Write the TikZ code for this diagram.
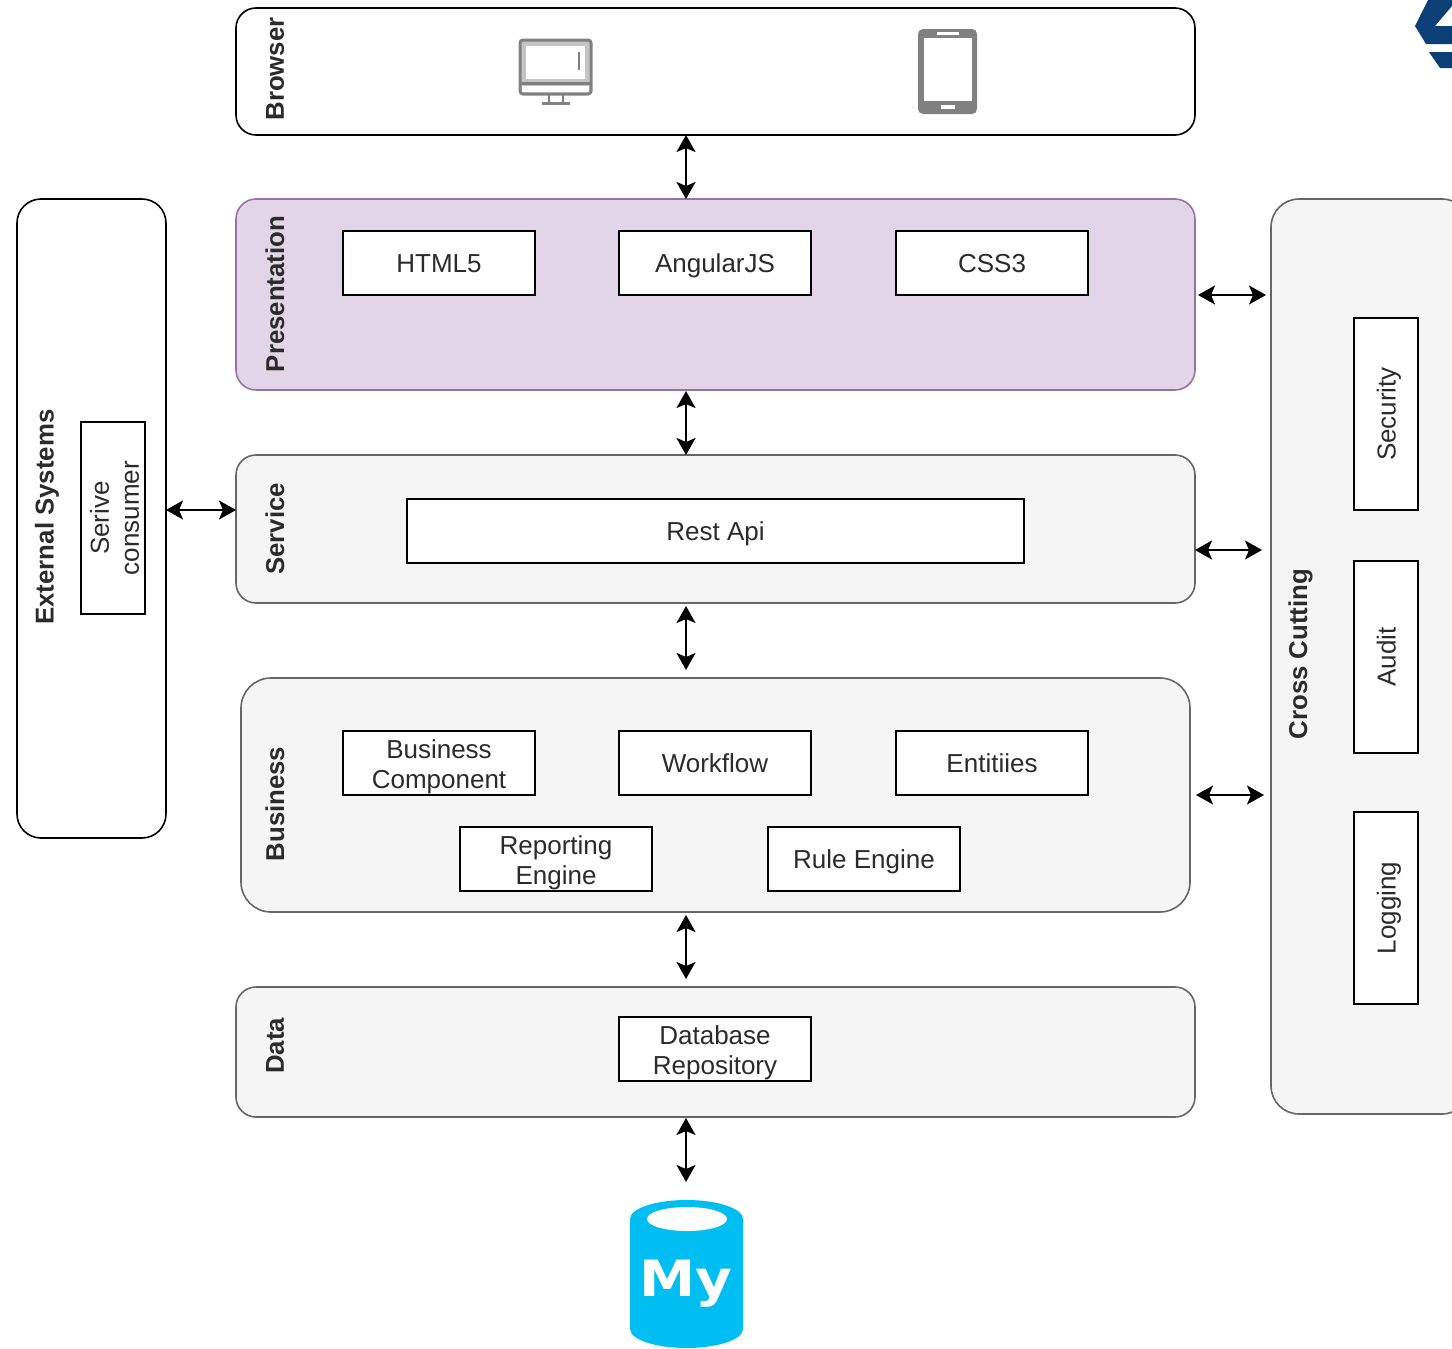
\documentclass[tikz,border=0pt]{standalone}
\usepackage{fontspec}
\setmainfont{Liberation Sans}
\newfontfamily\mylogofont{DejaVu Sans}
\usetikzlibrary{arrows.meta}
\definecolor{txt}{HTML}{2B2B2B}
\definecolor{iconc}{HTML}{808080}
\definecolor{iconl}{HTML}{C4C4C4}
\definecolor{logoc}{HTML}{0B3F76}
\definecolor{mysqlc}{HTML}{00BEF2}
\definecolor{purpled}{HTML}{9673A6}
\definecolor{purplef}{HTML}{E1D5E7}
\definecolor{greyd}{HTML}{666666}
\definecolor{greyf}{HTML}{F5F5F5}
\newcommand{\firstline}{\rule{0pt}{27.5pt}}
\tikzset{
  layer/.style={draw=black,fill=white,line width=1.6pt,rounded corners=20pt,inner sep=0pt,outer sep=0pt},
  glayer/.style={layer,draw=greyd,fill=greyf},
  inbox/.style={draw=black,fill=white,line width=1.6pt,inner sep=0pt,outer sep=0pt,font=\fontsize{26}{30}\selectfont,text=txt,align=center,minimum width=192pt,minimum height=64pt,
    execute at begin node={\rule{0pt}{25pt}},execute at end node={\rule[-6pt]{0pt}{0pt}}},
  title/.style={rotate=90,font=\fontsize{25.8}{28}\selectfont\bfseries,text=txt,inner sep=0pt},
  dbl/.style={{Stealth[length=17pt,width=19pt,inset=4pt]}-{Stealth[length=17pt,width=19pt,inset=4pt]},line width=2pt,black},
}
\begin{document}
\begin{tikzpicture}[x=1pt,y=-1pt]
\clip (0,0) rectangle (1452,1349);
% logo fragment
\fill[logoc] (1415,26) -- (1428,0) -- (1452,0) -- (1452,6) -- (1435,26) -- (1452,26) -- (1452,44) -- (1426,44) -- cycle;
\fill[logoc] (1429,52) -- (1452,52) -- (1452,68) -- (1440,68) -- cycle;
% layers
\node[layer,minimum width=959pt,minimum height=127pt] (browser) at (715.5,71.5) {};
\node[layer,draw=purpled,fill=purplef,minimum width=959pt,minimum height=191pt] (pres) at (715.5,294.5) {};
\node[glayer,minimum width=959pt,minimum height=148pt] (service) at (715.5,529) {};
\node[glayer,rounded corners=30pt,minimum width=949pt,minimum height=234pt] (business) at (715.5,795) {};
\node[glayer,minimum width=959pt,minimum height=130pt] (data) at (715.5,1052) {};
\node[layer,rounded corners=24pt,minimum width=149pt,minimum height=639pt] (external) at (91.5,518.5) {};
\node[glayer,rounded corners=28pt,minimum width=199pt,minimum height=915pt] (cross) at (1370.5,656.5) {};
% titles
\node[title] (tbrowser) at (275,69) {Browser};
\node[title] (tpres) at (275,294) {Presentation};
\node[title] (tservice) at (275,529) {Service};
\node[title] (tbusiness) at (275,804) {Business};
\node[title] (tdata) at (275,1046) {Data};
\node[title] (texternal) at (47,517) {External Systems};
\node[title] (tcross) at (1300.5,654) {Cross Cutting};
% inner boxes
\node[inbox] (html) at (439,263) {HTML5};
\node[inbox] (angular) at (715,263) {AngularJS};
\node[inbox] (css) at (992,263) {CSS3};
\node[inbox,minimum width=617pt] (rest) at (715.5,531) {Rest Api};
\node[inbox] (bc) at (439,763) {\firstline Business\\Component};
\node[inbox] (wf) at (715,763) {Workflow};
\node[inbox] (ent) at (992,763) {Entitiies};
\node[inbox] (rep) at (556,859) {\firstline Reporting\\Engine};
\node[inbox] (rule) at (864,859) {Rule Engine};
\node[inbox] (db) at (715,1049) {\firstline Database\\Repository};
\node[inbox,rotate=90] (serive) at (113,518) {\firstline Serive\\consumer};
\node[inbox,rotate=90] (security) at (1386,414) {Security};
\node[inbox,rotate=90] (audit) at (1386,657) {Audit};
\node[inbox,rotate=90] (logging) at (1386,908) {Logging};
% monitor icon
\draw[iconc,fill=iconl,line width=3pt,rounded corners=3pt] (520,40) rectangle (591,94);
\fill[white] (526,46) rectangle (585,79);
\fill[white] (522,86) rectangle (589,92);
\draw[iconc,line width=3pt] (520,83) -- (591,83);
\draw[iconc,line width=2.5pt] (579,52) -- (579,70);
\draw[iconc,line width=2.5pt] (549,94) -- (549,103) (563,94) -- (563,103);
\draw[iconc,line width=3pt] (542,103) -- (570,103);
% tablet icon
\fill[iconc,rounded corners=5pt] (918,29) rectangle (977,114);
\fill[white] (924,38) rectangle (972,101);
\fill[white] (937,32) rectangle (959,35);
\fill[white] (941,105) rectangle (955,109);
% MySQL
\fill[mysqlc] (630,1219) arc[x radius=56.5pt,y radius=19pt,start angle=180,end angle=0] -- (743,1329) arc[x radius=56.5pt,y radius=19pt,start angle=0,end angle=-180] -- cycle;
\fill[white] (687,1219) ellipse[x radius=40pt,y radius=12pt];
\node[anchor=base,inner sep=0pt,text=white,font=\fontsize{50}{50}\selectfont\mylogofont\bfseries,xscale=1.13] (mysqltext) at (686,1296) {My};
\coordinate (mysql) at (686,1182);
% connectors
\coordinate (ax) at (686,0);
\draw[dbl] (browser.south -| ax) -- (pres.north -| ax);
\draw[dbl,shorten <=1pt] (pres.south -| ax) -- (service.north -| ax);
\draw[dbl,shorten <=3pt,shorten >=8pt] (service.south -| ax) -- (business.north -| ax);
\draw[dbl,shorten <=3pt,shorten >=8pt] (business.south -| ax) -- (data.north -| ax);
\draw[dbl,shorten <=1pt] (data.south -| ax) -- (mysql);
\coordinate (ly) at (0,510);
\draw[dbl] (external.east |- ly) -- (service.west |- ly);
\coordinate (ry1) at (0,295);
\coordinate (ry2) at (0,550);
\coordinate (ry3) at (0,795);
\draw[dbl,shorten <=3pt,shorten >=5pt] (pres.east |- ry1) -- (cross.west |- ry1);
\draw[dbl,shorten >=9pt] (service.east |- ry2) -- (cross.west |- ry2);
\draw[dbl,shorten <=6pt,shorten >=7pt] (business.east |- ry3) -- (cross.west |- ry3);
\end{tikzpicture}
\end{document}
